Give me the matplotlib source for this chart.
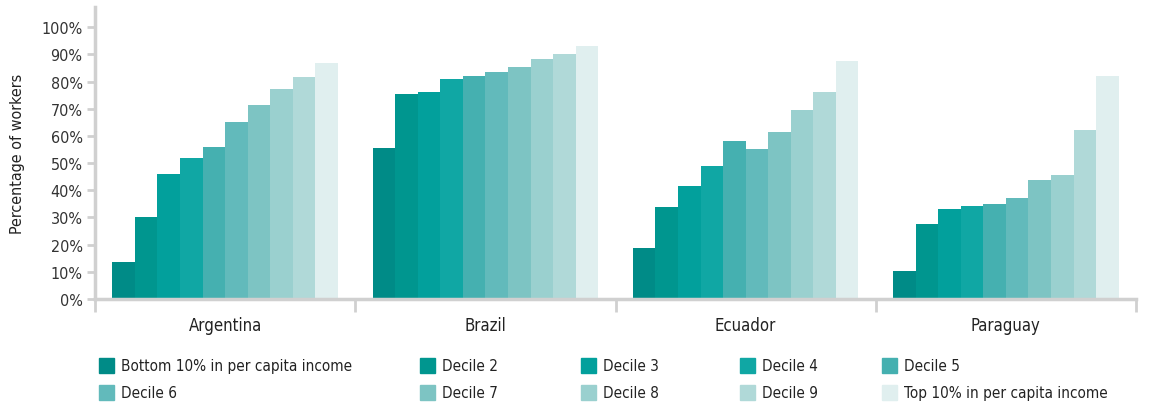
import numpy as np
import matplotlib
matplotlib.use("Agg")
import matplotlib.pyplot as plt
from matplotlib.patches import Rectangle

plt.rcParams['font.family'] = ['DejaVu Sans']
plt.rcParams['font.stretch'] = 'condensed'

countries = ["Argentina", "Brazil", "Ecuador", "Paraguay"]
series = ["Bottom 10% in per capita income", "Decile 2", "Decile 3", "Decile 4", "Decile 5",
          "Decile 6", "Decile 7", "Decile 8", "Decile 9", "Top 10% in per capita income"]
colors = ["#008B87", "#00968F", "#02A09C", "#10A7A4", "#45B0B0",
          "#62BABB", "#7DC4C3", "#9AD0CF", "#B0D9D8", "#E0EFEF"]

argentina = [13.6, 30.1, 46.0, 51.8, 55.8, 65.1, 71.4, 77.2, 81.6, 86.8]
brazil = [55.5, 75.6, 76.1, 80.9, 82.2, 83.5, 85.2, 88.2, 90.1, 93.0]
ecuador = [18.8, 33.8, 41.5, 48.9, 58.0, 55.1, 61.4, 69.5, 76.1, 87.5]
paraguay = [10.3, 27.6, 33.1, 34.2, 34.8, 37.1, 43.8, 45.6, 62.1, 82.0]
values = np.array([argentina, brazil, ecuador, paraguay])

fig = plt.figure(figsize=(11.49, 4.06), dpi=100)
ax = fig.add_axes([0.0827, 0.261, 0.906, 0.719])

x = np.arange(len(countries))
w = 0.0867
for i in range(len(series)):
    ax.bar(x + (i - 4.5) * w, values[:, i], width=w, color=colors[i], label=series[i])

ax.set_xlim(-0.5, 3.5)
ax.set_ylim(0, 107.4)
ax.set_yticks(np.arange(0, 101, 10))
ax.set_yticklabels([f"{v}%" for v in range(0, 101, 10)])
ax.set_xticks(x)
ax.set_xticklabels(countries)
ax.set_xticks(np.arange(-0.5, 3.6, 1), minor=True)

for s in ["top", "right"]:
    ax.spines[s].set_visible(False)
for s in ["left", "bottom"]:
    ax.spines[s].set_color("#D0D0D0")
    ax.spines[s].set_linewidth(2.5)

ax.tick_params(axis="y", colors="#D0D0D0", width=2, length=6, labelcolor="#333333", labelsize=11.5, pad=3)
ax.tick_params(axis="x", which="major", length=0, labelsize=12, labelcolor="#222222", pad=12)
ax.tick_params(axis="x", which="minor", colors="#D0D0D0", width=2, length=9)
ax.set_ylabel("Percentage of workers", fontsize=11.5, color="#222222", labelpad=12)

# legend, row by row
leg_x = [99, 420, 581, 740, 882]
leg_y = [367, 394]
for i, name in enumerate(series):
    px = leg_x[i % 5]
    py = leg_y[i // 5]
    fig.add_artist(Rectangle(((px) / 1149, 1 - (py + 7) / 406), 15 / 1149, 15 / 406,
                             transform=fig.transFigure, color=colors[i]))
    fig.text((px + 22) / 1149, 1 - py / 406, name, fontsize=11, color="#222222",
             va="center", ha="left")

fig.savefig("out.png", dpi=100)
